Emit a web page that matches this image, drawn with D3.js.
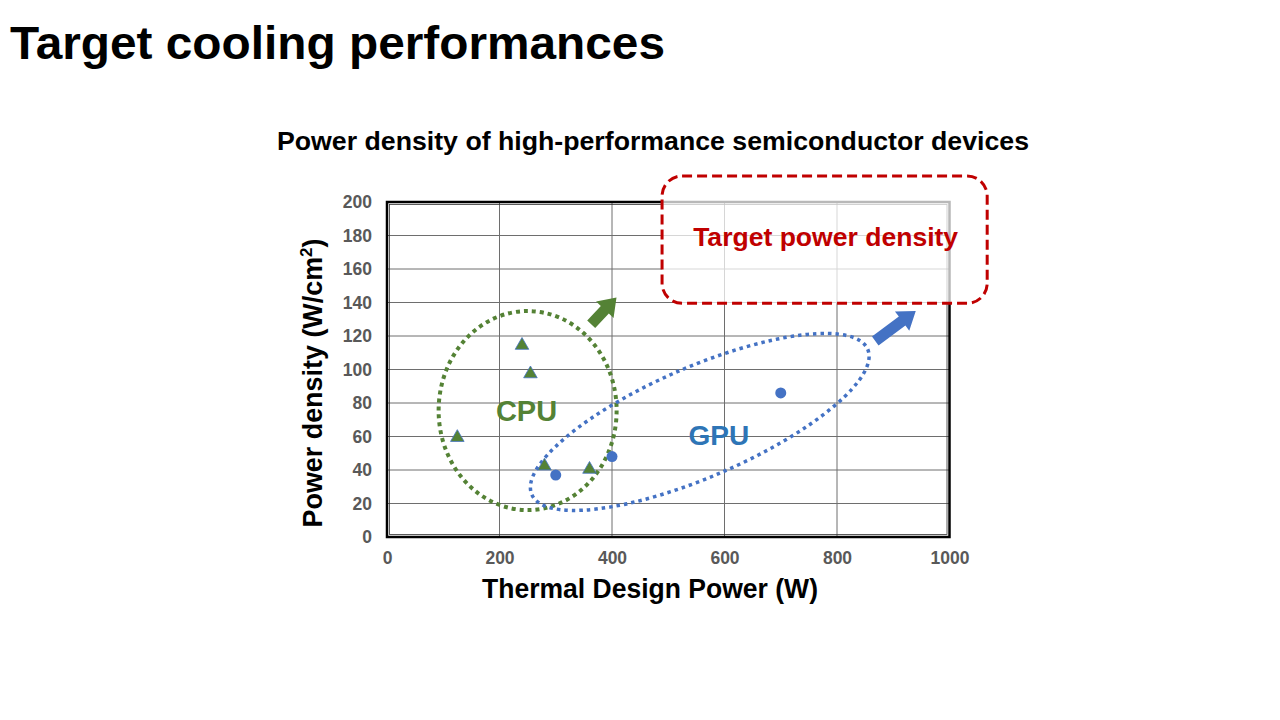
<!DOCTYPE html>
<html>
<head>
<meta charset="utf-8">
<script src="https://cdn.jsdelivr.net/npm/d3@7"></script>
<style>
  body { margin: 0; background: #fff; }
  text { font-family: "Liberation Sans", Arial, sans-serif; }
</style>
</head>
<body>
<div id="chart"></div>
<script>
// data
var cpuTdp     = [125, 240, 255, 280, 360];
var cpuDensity = [60, 115, 98, 43, 41];
var gpuTdp     = [300, 400, 700];
var gpuDensity = [37, 48, 86];
var xTicks = [0, 200, 400, 600, 800, 1000];
var yTicks = [0, 20, 40, 60, 80, 100, 120, 140, 160, 180, 200];

// annotation anchors (data units)
var cpuGroup = {x: 250, y: 75.5, label: "CPU", lx: 248, ly: 69};
var gpuGroup = {x: 556, y: 68.7, label: "GPU", lx: 590, ly: 55};
var arrowsData = [
  {x1: 363, y1: 127, x2: 408, y2: 143, color: "#548235"},
  {x1: 868, y1: 117, x2: 940, y2: 135, color: "#4472C4"}
];
var targetBox = {x0: 489, x1: 1067, y0: 139.5, y1: 215.5, label: "Target power density"};

var w = 1280, h = 720;
var plotLeft = 387, plotRight = 949.5, plotTop = 202, plotBottom = 537;

var svg = d3.select("#chart")
            .append("svg")
            .attr("width", w)
            .attr("height", h);

var x = d3.scaleLinear().domain([0, 1000]).range([plotLeft, plotRight]);
var y = d3.scaleLinear().domain([0, 200]).range([plotBottom, plotTop]);

// titles
svg.append("text")
  .attr("x", 10).attr("y", 59)
  .attr("font-size", 47).attr("font-weight", "bold")
  .attr("textLength", 655).attr("lengthAdjust", "spacingAndGlyphs")
  .text("Target cooling performances");

svg.append("text")
  .attr("x", 653).attr("y", 150)
  .attr("text-anchor", "middle")
  .attr("font-size", 25).attr("font-weight", "bold")
  .attr("textLength", 752).attr("lengthAdjust", "spacingAndGlyphs")
  .text("Power density of high-performance semiconductor devices");

// grid
svg.append("g")
  .selectAll("line")
  .data(yTicks.slice(1, -1))
  .enter()
  .append("line")
  .attr("x1", plotLeft).attr("x2", plotRight)
  .attr("y1", function(d) { return y(d); })
  .attr("y2", function(d) { return y(d); })
  .attr("stroke", "#6e6e6e").attr("stroke-width", 1);

svg.append("g")
  .selectAll("line")
  .data(xTicks.slice(1, -1))
  .enter()
  .append("line")
  .attr("y1", plotTop).attr("y2", plotBottom)
  .attr("x1", function(d) { return x(d); })
  .attr("x2", function(d) { return x(d); })
  .attr("stroke", "#6e6e6e").attr("stroke-width", 1);

// frame
svg.append("rect")
  .attr("x", plotLeft).attr("y", plotTop)
  .attr("width", plotRight - plotLeft).attr("height", plotBottom - plotTop)
  .attr("fill", "none").attr("stroke", "#000").attr("stroke-width", 2.5);
svg.append("rect")
  .attr("x", plotLeft + 2.5).attr("y", plotTop + 2.5)
  .attr("width", plotRight - plotLeft - 5).attr("height", plotBottom - plotTop - 5)
  .attr("fill", "none").attr("stroke", "#333").attr("stroke-width", 0.8);

// axes (labels only)
var xAxis = d3.axisBottom(x).tickValues(xTicks).tickFormat(d3.format("d")).tickSize(0).tickPadding(15);
var yAxis = d3.axisLeft(y).tickValues(yTicks).tickFormat(d3.format("d")).tickSize(0).tickPadding(15);

var gx = svg.append("g").attr("transform", "translate(0," + plotBottom + ")").call(xAxis);
var gy = svg.append("g").attr("transform", "translate(" + plotLeft + ",0)").call(yAxis);
[gx, gy].forEach(function(g) {
  g.select(".domain").remove();
  g.selectAll("text")
    .attr("fill", "#595959")
    .attr("font-size", 17.5)
    .attr("font-weight", "bold")
    .attr("font-family", "Liberation Sans, Arial, sans-serif");
});

svg.append("text")
  .attr("x", 650).attr("y", 598)
  .attr("text-anchor", "middle")
  .attr("font-size", 27).attr("font-weight", "bold")
  .attr("textLength", 336).attr("lengthAdjust", "spacingAndGlyphs")
  .text("Thermal Design Power (W)");

var yl = svg.append("text")
  .attr("transform", "translate(322,383) rotate(-90)")
  .attr("text-anchor", "middle")
  .attr("font-size", 27).attr("font-weight", "bold")
  .attr("textLength", 289).attr("lengthAdjust", "spacingAndGlyphs");
yl.append("tspan").text("Power density (W/cm");
yl.append("tspan").attr("font-size", 17).attr("dy", -10).text("2");
yl.append("tspan").attr("dy", 10).text(")");

// target box
svg.append("rect")
  .attr("x", x(targetBox.x0)).attr("y", y(targetBox.y1))
  .attr("width", x(targetBox.x1) - x(targetBox.x0))
  .attr("height", y(targetBox.y0) - y(targetBox.y1))
  .attr("rx", 20).attr("ry", 20)
  .attr("fill", "#fff").attr("fill-opacity", 0.72)
  .attr("stroke", "#C00000").attr("stroke-width", 3)
  .attr("stroke-dasharray", "10,5");

svg.append("text")
  .attr("x", (x(targetBox.x0) + x(targetBox.x1)) / 2 + 1)
  .attr("y", y(targetBox.y0 + 34))
  .attr("text-anchor", "middle")
  .attr("font-size", 26).attr("font-weight", "bold")
  .attr("fill", "#C00000")
  .attr("textLength", 265).attr("lengthAdjust", "spacingAndGlyphs")
  .text(targetBox.label);

// group ellipses
svg.append("ellipse")
  .attr("cx", x(cpuGroup.x)).attr("cy", y(cpuGroup.y))
  .attr("rx", 89).attr("ry", 99.5)
  .attr("fill", "none").attr("stroke", "#548235")
  .attr("stroke-width", 4).attr("stroke-dasharray", "4,4");

svg.append("ellipse")
  .attr("transform", "translate(" + x(gpuGroup.x) + "," + y(gpuGroup.y) + ") rotate(-23.4)")
  .attr("rx", 183).attr("ry", 55)
  .attr("fill", "none").attr("stroke", "#4472C4")
  .attr("stroke-width", 3.5).attr("stroke-dasharray", "3.5,4");

// block arrows
function blockArrow(d) {
  var x1 = x(d.x1), y1 = y(d.y1), x2 = x(d.x2), y2 = y(d.y2);
  var len = Math.hypot(x2 - x1, y2 - y1);
  var a = Math.atan2(y2 - y1, x2 - x1);
  var shaft = 5.5, head = 12, headLen = 17;
  var pts = [[0, -shaft], [len - headLen, -shaft], [len - headLen, -head], [len, 0],
             [len - headLen, head], [len - headLen, shaft], [0, shaft]];
  return pts.map(function(p) {
    return [x1 + p[0] * Math.cos(a) - p[1] * Math.sin(a),
            y1 + p[0] * Math.sin(a) + p[1] * Math.cos(a)].join(",");
  }).join(" ");
}

svg.append("g")
  .selectAll("polygon")
  .data(arrowsData)
  .enter()
  .append("polygon")
  .attr("points", blockArrow)
  .attr("fill", function(d) { return d.color; });

// group labels
svg.append("text")
  .attr("x", x(cpuGroup.lx)).attr("y", y(cpuGroup.ly))
  .attr("text-anchor", "middle")
  .attr("font-size", 29).attr("font-weight", "bold")
  .attr("fill", "#548235")
  .text(cpuGroup.label);

svg.append("text")
  .attr("x", x(gpuGroup.lx)).attr("y", y(gpuGroup.ly))
  .attr("text-anchor", "middle")
  .attr("font-size", 28).attr("font-weight", "bold")
  .attr("fill", "#2E75B6")
  .text(gpuGroup.label);

// markers
var tri = d3.symbol().type(d3.symbolTriangle).size(80);
svg.append("g")
  .selectAll("path")
  .data(d3.range(cpuTdp.length))
  .enter()
  .append("path")
  .attr("d", tri)
  .attr("transform", function(i) {
    return "translate(" + x(cpuTdp[i]) + "," + (y(cpuDensity[i]) + 1) + ")";
  })
  .attr("fill", "#548235")
  .attr("stroke", "#4472C4").attr("stroke-width", 0.8);

svg.append("g")
  .selectAll("circle")
  .data(d3.range(gpuTdp.length))
  .enter()
  .append("circle")
  .attr("cx", function(i) { return x(gpuTdp[i]); })
  .attr("cy", function(i) { return y(gpuDensity[i]); })
  .attr("r", 5.5)
  .attr("fill", "#4472C4");
</script>
</body>
</html>
